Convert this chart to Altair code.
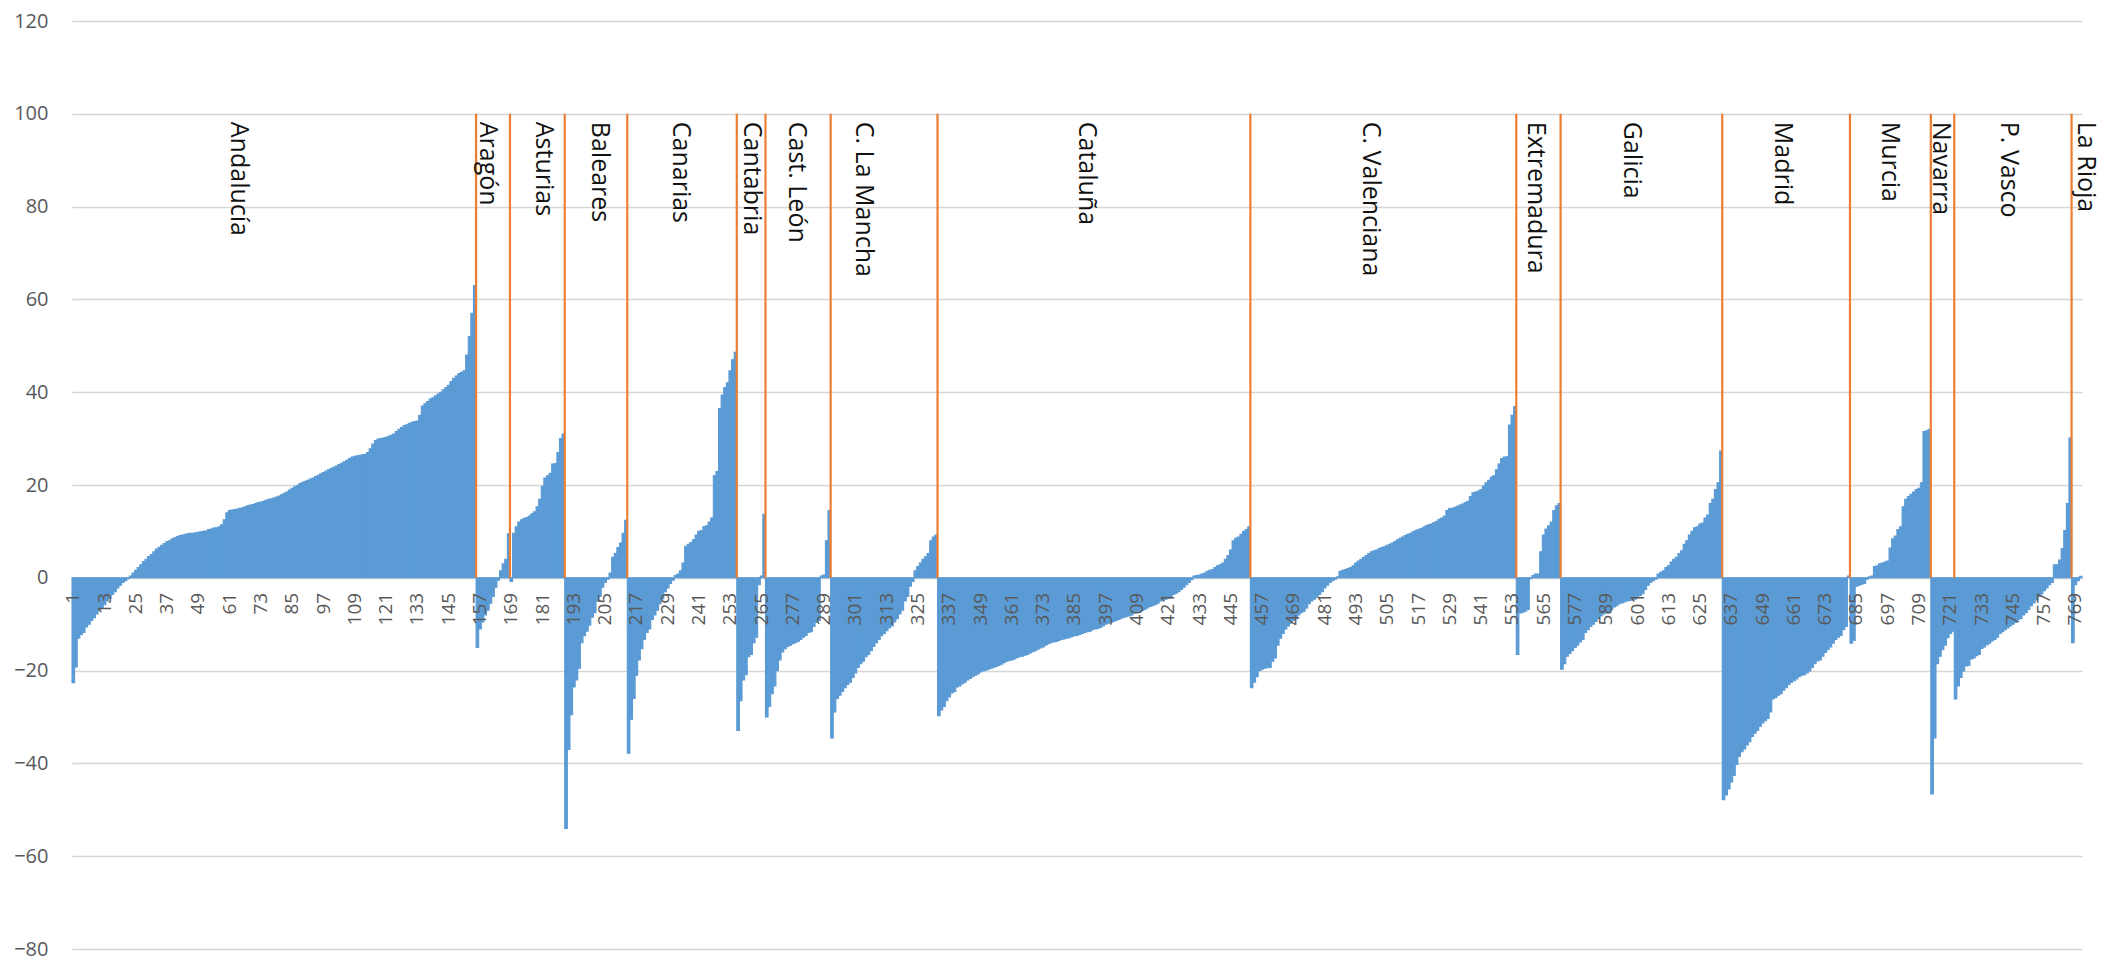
import altair as alt
import pandas as pd

BLUE = "#5b9bd5"
ORANGE = "#ed7d31"

regions = ["Andalucía", "Aragón", "Asturias", "Baleares", "Canarias", "Cantabria",
           "Cast. León", "C. La Mancha", "Cataluña", "C. Valenciana", "Extremadura",
           "Galicia", "Madrid", "Murcia", "Navarra", "P. Vasco", "La Rioja"]

# where each region name sits along the category axis (category index units)
label_at = [64.7, 160.1, 181.7, 203.2, 234.1, 261.5, 278.5, 304.3, 390.0, 498.7,
            561.9, 599.0, 656.7, 697.9, 717.5, 743.5, 773.0]

andalucia = [-22.6, -19.2, -13.0, -12.2, -11.8, -10.6, -10.0, -9.2, -8.6, -7.8,
             -7.0, -6.4, -5.8, -5.0, -4.4, -3.6, -3.0, -2.2, -1.6, -1.0,
             -0.6, -0.2, 0.4, 1.0, 1.6, 2.2, 2.8, 3.5, 4.0, 4.6,
             5.0, 5.6, 6.2, 6.6, 7.0, 7.4, 7.8, 8.0, 8.4, 8.6,
             8.9, 9.1, 9.2, 9.4, 9.5, 9.6, 9.6, 9.7, 9.8, 9.9,
             10.0, 10.1, 10.4, 10.5, 10.7, 10.8, 11.0, 11.4, 12.5, 14.0,
             14.5, 14.6, 14.7, 14.8, 15.0, 15.1, 15.3, 15.5, 15.7, 15.8,
             16.0, 16.2, 16.3, 16.5, 16.7, 16.9, 17.0, 17.2, 17.4, 17.6,
             17.9, 18.2, 18.5, 18.9, 19.3, 19.6, 19.9, 20.3, 20.6, 20.8,
             21.0, 21.3, 21.5, 21.8, 22.1, 22.4, 22.7, 23.0, 23.3, 23.6,
             23.8, 24.1, 24.4, 24.7, 25.0, 25.3, 25.7, 26.0, 26.2, 26.3,
             26.4, 26.5, 26.6, 27.0, 27.8, 28.8, 29.6, 29.9, 30.0, 30.1,
             30.3, 30.5, 30.7, 31.0, 31.5, 32.0, 32.4, 32.8, 33.0, 33.3,
             33.5, 33.7, 33.8, 35.0, 37.0, 37.5, 38.0, 38.5, 38.8, 39.2,
             39.6, 40.0, 40.5, 41.0, 41.5, 42.3, 43.0, 43.5, 44.0, 44.3,
             44.6, 48.0, 52.0, 57.0, 63.0]
aragon = [-15.0, -11.0, -9.5, -8.0, -7.0, -5.5, -4.0, -2.0, -0.5, 1.5, 3.0, 4.0, 9.5]
asturias = [-0.8, 9.6, 11.0, 12.0, 12.5, 12.8, 13.0, 13.3, 13.8, 14.2, 15.3, 16.9,
            19.7, 21.5, 22.0, 22.5, 24.5, 24.6, 27.0, 30.0, 31.0]
baleares = [-54.0, -37.0, -29.5, -23.5, -22.0, -19.5, -14.0, -12.5, -11.5, -10.2,
            -8.5, -7.5, -5.0, -4.0, -2.0, -1.0, -0.3, 1.0, 4.4, 5.2, 6.5, 7.5, 9.6, 12.4]
canarias = [-37.8, -30.5, -26.0, -21.0, -17.7, -15.3, -13.3, -11.8, -11.0, -9.0,
            -8.0, -7.0, -5.6, -4.5, -3.0, -2.2, -1.2, -0.5, 0.5, 0.8,
            1.5, 3.2, 6.8, 7.2, 7.6, 8.2, 9.2, 10.0, 10.2, 11.0,
            11.2, 12.0, 12.9, 22.0, 22.9, 36.5, 39.4, 41.0, 42.0, 44.6,
            47.0, 48.6]
cantabria = [-32.9, -26.5, -22.0, -20.9, -17.0, -16.5, -14.0, -12.8, -1.5, 0.4, 13.7]
cast_leon = [-30.0, -27.7, -25.0, -23.3, -20.0, -17.7, -16.0, -15.3, -14.8, -14.5,
             -14.2, -14.0, -13.7, -13.3, -12.8, -12.4, -11.8, -11.6, -10.5, -9.6,
             -9.2, 0.4, 0.6, 8.0, 14.5]
la_mancha = [-34.5, -28.9, -26.0, -25.3, -24.5, -23.7, -23.0, -22.5, -21.5, -20.5,
             -19.3, -18.5, -18.0, -17.0, -16.5, -15.7, -14.8, -14.0, -13.3, -12.5,
             -12.0, -11.4, -10.8, -10.4, -9.5, -8.8, -7.8, -7.0, -5.0, -4.0,
             -1.8, -0.8, 1.5, 2.4, 3.2, 4.0, 4.5, 5.2, 8.0, 8.8, 9.2]
cataluna = [-29.7, -28.5, -27.7, -26.5, -25.7, -24.8, -24.5, -23.5, -23.3, -22.8,
            -22.5, -22.0, -21.7, -21.3, -21.0, -20.7, -20.3, -20.1, -19.9, -19.7,
            -19.5, -19.3, -19.1, -18.9, -18.6, -18.3, -18.0, -17.8, -17.7, -17.5,
            -17.2, -17.0, -16.9, -16.7, -16.5, -16.2, -15.9, -15.7, -15.4, -15.1,
            -14.9, -14.5, -14.2, -14.0, -13.8, -13.7, -13.5, -13.3, -13.2, -13.0,
            -12.9, -12.7, -12.5, -12.4, -12.2, -12.0, -11.8, -11.6, -11.5, -11.2,
            -11.0, -10.9, -10.7, -10.4, -10.0, -9.8, -9.6, -9.4, -9.2, -9.0,
            -8.7, -8.5, -8.4, -8.2, -8.0, -7.6, -7.4, -7.2, -7.0, -6.8,
            -6.5, -6.2, -6.0, -5.8, -5.5, -5.0, -4.8, -4.6, -4.4, -4.0,
            -3.6, -3.3, -3.0, -2.5, -2.0, -1.5, -1.0, -0.4, 0.4, 0.5,
            0.6, 0.8, 1.0, 1.4, 1.6, 1.8, 2.2, 2.6, 2.8, 3.2,
            4.0, 4.8, 6.0, 8.0, 8.5, 8.8, 9.4, 10.0, 10.4, 11.0]
valenciana = [-23.7, -22.5, -21.3, -20.0, -19.7, -19.5, -19.4, -19.3, -18.0, -17.3,
              -14.5, -13.0, -12.0, -11.0, -10.4, -9.8, -9.2, -8.8, -8.0, -7.5,
              -7.2, -6.5, -5.6, -5.0, -4.6, -4.2, -3.6, -3.0, -2.2, -1.6,
              -1.0, -0.6, -0.3, 0.2, 1.4, 1.6, 1.8, 2.0, 2.2, 2.6,
              3.2, 3.6, 4.0, 4.4, 4.8, 5.2, 5.6, 5.8, 6.0, 6.3,
              6.5, 6.7, 7.0, 7.2, 7.5, 7.8, 8.2, 8.5, 8.8, 9.1,
              9.4, 9.6, 9.9, 10.2, 10.4, 10.6, 10.9, 11.2, 11.4, 11.6,
              11.9, 12.2, 12.6, 12.9, 13.3, 14.5, 14.9, 15.0, 15.2, 15.4,
              15.7, 15.9, 16.2, 16.5, 17.5, 18.3, 18.5, 18.7, 19.0, 19.8,
              20.5, 21.0, 21.7, 22.0, 23.3, 24.5, 25.7, 26.0, 26.1, 32.9,
              35.0, 36.9]
extremadura = [-16.5, -7.6, -7.4, -7.2, -6.8, -0.2, 0.5, 0.8, 0.8, 5.6, 9.2, 10.5,
               11.2, 12.0, 14.5, 15.5, 16.0]
galicia = [-19.7, -18.5, -16.9, -16.3, -15.7, -15.0, -14.5, -13.8, -13.3, -11.8,
           -11.2, -10.5, -10.0, -9.4, -8.8, -8.2, -7.8, -7.6, -7.4, -6.8,
           -6.3, -6.0, -5.6, -5.4, -5.2, -5.0, -4.9, -4.8, -4.6, -4.3,
           -3.8, -3.4, -2.5, -1.6, -1.0, -0.6, -0.3, 0.8, 1.2, 1.5,
           2.2, 2.6, 3.4, 4.0, 4.4, 5.2, 5.8, 7.2, 8.0, 9.2,
           10.0, 10.8, 11.0, 11.6, 11.8, 12.9, 13.5, 16.0, 16.9, 19.0,
           20.5, 27.3]
madrid = [-47.8, -46.8, -45.5, -44.0, -42.6, -40.2, -38.5, -37.5, -36.9, -36.0,
          -35.3, -34.2, -33.5, -32.9, -32.0, -31.3, -30.8, -30.3, -28.9, -26.1,
          -25.8, -25.3, -25.0, -24.2, -23.7, -23.0, -22.5, -22.2, -21.8, -21.3,
          -21.0, -20.9, -20.5, -20.1, -19.3, -18.5, -17.9, -17.7, -16.9, -16.1,
          -15.5, -14.9, -14.1, -13.3, -12.8, -12.4, -11.2, -10.5, 0.4]
murcia = [-14.1, -13.5, -1.8, -1.6, -1.4, -1.2, -0.3, 0.2, 0.4, 2.4,
          2.6, 3.0, 3.2, 3.4, 3.6, 6.4, 8.4, 9.0, 10.4, 11.0,
          15.3, 16.9, 17.5, 18.0, 18.5, 19.0, 19.3, 20.5, 31.5, 31.7, 32.0]
navarra = [-46.6, -34.5, -18.5, -16.9, -15.5, -14.5, -12.9, -12.0, -11.5]
pais_vasco = [-26.1, -23.3, -21.5, -20.1, -19.0, -18.9, -17.5, -17.3, -16.8, -16.5,
              -15.2, -14.9, -14.4, -14.1, -13.6, -13.3, -12.8, -12.0, -11.6, -11.2,
              -10.8, -10.4, -10.0, -9.6, -9.0, -8.8, -8.0, -7.5, -6.8, -6.0,
              -5.4, -4.8, -4.0, -3.5, -2.8, -2.2, -1.5, -1.0, 2.8, 2.8,
              3.8, 6.3, 10.2, 16.0, 30.1]
la_rioja = [-14.0, -1.5, -0.6, 0.3]

series = [andalucia, aragon, asturias, baleares, canarias, cantabria, cast_leon,
          la_mancha, cataluna, valenciana, extremadura, galicia, madrid, murcia,
          navarra, pais_vasco, la_rioja]

y_ticks = [-80, -60, -40, -20, 0, 20, 40, 60, 80, 100, 120]
x_tick_labels = list(range(1, 770, 12))

# ---- build tables ----
rows = []
ends = []
n = 0
for name, vals in zip(regions, series):
    for v in vals:
        n += 1
        rows.append({"i": n, "x0": n - 0.5, "x1": n + 0.5, "v": v, "base": 0, "region": name})
    ends.append(n + 0.5)
bar_df = pd.DataFrame(rows)
rule_df = pd.DataFrame({"b": ends[:-1], "lo": 0, "hi": 100})
tick_df = pd.DataFrame({"t": x_tick_labels, "lab": [str(t) for t in x_tick_labels], "z": 0})
lab_df = pd.DataFrame({"name": regions, "at": label_at, "top": 100})

xs = alt.Scale(domain=[0.5, n + 0.5], nice=False, zero=False)
ys = alt.Scale(domain=[-80, 120], nice=False)

y_axis = alt.Axis(
    values=y_ticks, grid=True, gridColor="#d6d6d6", gridWidth=1.5,
    domain=False, ticks=False, tickSize=0, labelPadding=24,
    labelFont="Open Sans", labelFontSize=20, labelColor="#595959",
    title=None, minExtent=64, maxExtent=64)

bars = alt.Chart(bar_df).mark_bar(color=BLUE, stroke=BLUE, strokeWidth=1.1).encode(
    x=alt.X("x0:Q", scale=xs, axis=None),
    x2="x1:Q",
    y=alt.Y("v:Q", scale=ys, axis=y_axis),
    y2="base:Q",
)

rules = alt.Chart(rule_df).mark_rule(color=ORANGE, strokeWidth=2.2).encode(
    x=alt.X("b:Q", scale=xs, axis=None),
    y=alt.Y("lo:Q", scale=ys, axis=y_axis),
    y2="hi:Q",
)

tick_text = alt.Chart(tick_df).mark_text(
    angle=270, align="right", baseline="middle", dx=-15,
    font="Open Sans", fontSize=19, color="#595959",
).encode(
    x=alt.X("t:Q", scale=xs, axis=None),
    y=alt.Y("z:Q", scale=ys, axis=y_axis),
    text="lab:N",
)

region_text = alt.Chart(lab_df).mark_text(
    angle=90, align="left", baseline="middle", dx=8,
    font="Open Sans", fontSize=25, color="#111111",
).encode(
    x=alt.X("at:Q", scale=xs, axis=None),
    y=alt.Y("top:Q", scale=ys, axis=y_axis),
    text="name:N",
)

chart = alt.layer(bars, rules, tick_text, region_text).properties(
    width=2010, height=928,
    padding={"left": 0, "top": 3, "right": 8, "bottom": 6},
    background="white",
).configure_view(stroke=None)

chart.save("out.html", embed_options={"renderer": "svg", "actions": False})
